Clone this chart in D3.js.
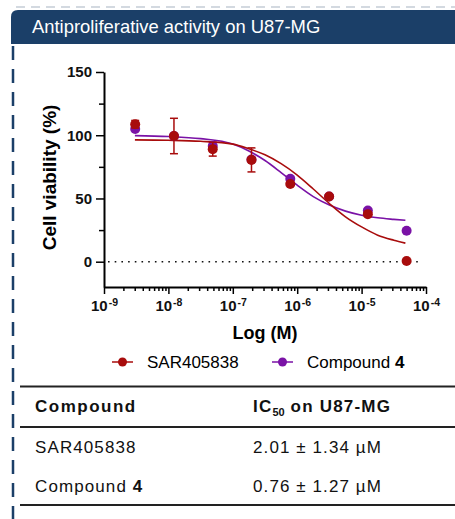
<!DOCTYPE html>
<html>
<head>
<meta charset="utf-8">
<script src="https://cdn.jsdelivr.net/npm/d3@7"></script>
<style>
  html, body { margin: 0; padding: 0; background: #fff; }
  svg { display: block; }
</style>
</head>
<body>
<svg id="chart" width="455" height="519"></svg>
<script>
// concentrations (M), 4-fold dilution series
const conc = [3.05e-9, 1.22e-8, 4.88e-8, 1.95e-7, 7.81e-7, 3.13e-6, 1.25e-5, 5.0e-5]
// SAR405838 mean viability and SD
const sarMean = [108.7, 99.4, 89, 80.5, 61.5, 51.6, 37.6, 0.5]
const sarErr = [3, 14, 5.5, 9.5, 0, 0, 0, 0]
// Compound 4 mean viability
const cpdMean = [105, 99.4, 91.5, 80.8, 65.5, 51.5, 40.5, 24.5]
// fitted curves: [log10 M, viability]
const sarFit = [[-8.52, 96.3], [-8, 96], [-7.5, 95.2], [-7, 93], [-6.75, 89.3], [-6.5, 84.5], [-6.25, 77.5],
  [-6, 68.5], [-5.75, 57.5], [-5.5, 46], [-5.25, 35.5], [-5, 27.5], [-4.75, 21], [-4.5, 17], [-4.32, 14.7]]
const cpdFit = [[-8.52, 99.7], [-8, 99], [-7.5, 97.3], [-7, 93], [-6.75, 87.5], [-6.5, 80], [-6.25, 70.5],
  [-6, 60.5], [-5.75, 51.5], [-5.5, 44.8], [-5.25, 40], [-5, 36.8], [-4.75, 34.7], [-4.5, 33.5], [-4.32, 32.8]]
const yTicks = [0, 50, 100, 150]
const yMinor = [25, 75, 125]
const xDecades = [-9, -8, -7, -6, -5, -4]
const tableHead = ['Compound', 'IC50 on U87-MG']
const tableRows = [['SAR405838', '2.01 ± 1.34 µM'], ['Compound 4', '0.76 ± 1.27 µM']]

const red = '#a80c0c', purple = '#7a12a6', navy = '#1b3f68'
const svg = d3.select('#chart')
const chartFont = '"Liberation Sans", Arial, sans-serif'

// frame: top dashes, title bar, left dashed border
svg.append('line').attr('x1', 16).attr('x2', 455).attr('y1', 7).attr('y2', 7)
  .attr('stroke', '#d3d9e0').attr('stroke-width', 2).attr('stroke-dasharray', '9,6')
svg.append('path')
  .attr('d', 'M11,44 L11,17 Q11,10 18,10 L455,10 L455,44 Z')
  .attr('fill', navy)
svg.append('text').attr('x', 32).attr('y', 33).attr('fill', '#fff')
  .style('font-family', chartFont).style('font-size', '18.4px')
  .text('Antiproliferative activity on U87-MG')
svg.append('line').attr('x1', 13).attr('x2', 13).attr('y1', 46).attr('y2', 519)
  .attr('stroke', navy).attr('stroke-width', 2.5).attr('stroke-dasharray', '14,9')

const x = d3.scaleLog().domain([1e-9, 1e-4]).range([104, 426])
const y = d3.scaleLinear().domain([-20, 150]).range([287, 72])

const g = svg.append('g').style('font-family', chartFont)

// y axis
const yAxis = g.append('g').attr('transform', `translate(${x.range()[0]},0)`)
  .call(d3.axisLeft(y).tickValues(yTicks).tickSize(8).tickSizeOuter(0).tickPadding(4))
yAxis.selectAll('text').style('font-size', '15px').style('font-weight', 'bold').attr('fill', '#111')
yAxis.select('.domain').attr('stroke-width', 2)
yAxis.selectAll('.tick line').attr('stroke-width', 1.5)
g.append('g').attr('transform', `translate(${x.range()[0]},0)`)
  .call(d3.axisLeft(y).tickValues(yMinor).tickSize(5).tickFormat(''))
  .call(a => a.select('.domain').remove())
  .selectAll('.tick line').attr('stroke-width', 1.5)

// x axis
const majors = xDecades.map(e => Math.pow(10, e))
const minors = []
xDecades.slice(0, -1).forEach(e => { for (let k = 2; k <= 9; k++) minors.push(k * Math.pow(10, e)) })
const xAxis = g.append('g').attr('transform', `translate(0,${y.range()[0]})`)
  .call(d3.axisBottom(x).tickValues(majors).tickSize(7).tickSizeOuter(0).tickPadding(6).tickFormat(''))
xAxis.select('.domain').attr('stroke-width', 2)
xAxis.selectAll('.tick line').attr('stroke-width', 1.5)
xAxis.selectAll('.tick text').each(function (d) {
  const t = d3.select(this).style('font-size', '15px').style('font-weight', 'bold').attr('fill', '#111')
  t.append('tspan').text('10')
  t.append('tspan').attr('dx', 1).attr('dy', '-0.45em').style('font-size', '10.5px').text(Math.round(Math.log10(d)))
})
g.append('g').attr('transform', `translate(0,${y.range()[0]})`)
  .call(d3.axisBottom(x).tickValues(minors).tickSize(4).tickFormat(''))
  .call(a => a.select('.domain').remove())
  .selectAll('.tick line').attr('stroke-width', 1.5)

// axis titles
g.append('text').attr('x', 265).attr('y', 339).attr('text-anchor', 'middle')
  .style('font-size', '18px').style('font-weight', 'bold').text('Log (M)')
g.append('text').attr('transform', `translate(56,${(y(-20) + y(150)) / 2 - 2}) rotate(-90)`)
  .attr('text-anchor', 'middle').style('font-size', '19px').style('font-weight', 'bold')
  .text('Cell viability (%)')

// zero line
g.append('line').attr('x1', x(1e-9) + 4).attr('x2', x(1e-4) - 4).attr('y1', y(0)).attr('y2', y(0))
  .attr('stroke', '#111').attr('stroke-width', 1.6).attr('stroke-dasharray', '1.6,5.1')

// fitted curves
const line = d3.line().x(d => x(Math.pow(10, d[0]))).y(d => y(d[1])).curve(d3.curveMonotoneX)
g.append('path').datum(cpdFit).attr('d', line).attr('fill', 'none').attr('stroke', purple).attr('stroke-width', 1.6)
g.append('path').datum(sarFit).attr('d', line).attr('fill', 'none').attr('stroke', red).attr('stroke-width', 1.6)

// compound 4 points
g.selectAll('circle.cpd').data(cpdMean).join('circle').attr('class', 'cpd')
  .attr('cx', (d, i) => x(conc[i])).attr('cy', d => y(d)).attr('r', 5).attr('fill', purple)

// SAR error bars and points
const errData = sarMean.map((m, i) => ({ c: conc[i], m, e: sarErr[i] })).filter(d => d.e > 0)
const bars = g.selectAll('g.err').data(errData).join('g').attr('class', 'err')
bars.append('line').attr('x1', d => x(d.c)).attr('x2', d => x(d.c))
  .attr('y1', d => y(d.m + d.e)).attr('y2', d => y(d.m - d.e))
  .attr('stroke', red).attr('stroke-width', 1.5)
;[1, -1].forEach(s => {
  bars.append('line').attr('x1', d => x(d.c) - 4).attr('x2', d => x(d.c) + 4)
    .attr('y1', d => y(d.m + s * d.e)).attr('y2', d => y(d.m + s * d.e))
    .attr('stroke', red).attr('stroke-width', 1.5)
})
g.selectAll('circle.sar').data(sarMean).join('circle').attr('class', 'sar')
  .attr('cx', (d, i) => x(conc[i])).attr('cy', d => y(d)).attr('r', 5).attr('fill', red)

// legend
const legend = [{ name: 'SAR405838', color: red, x: 112 }, { name: 'Compound ', bold: '4', color: purple, x: 272 }]
const lg = g.selectAll('g.leg').data(legend).join('g').attr('class', 'leg')
  .attr('transform', d => `translate(${d.x},362)`)
lg.append('line').attr('x1', 0).attr('x2', 21).attr('stroke', d => d.color).attr('stroke-width', 1.5)
lg.append('circle').attr('cx', 10.5).attr('r', 4.5).attr('fill', d => d.color)
const lt = lg.append('text').attr('x', 35).attr('y', 6).style('font-size', '17px')
lt.append('tspan').text(d => d.name)
lt.filter(d => d.bold).append('tspan').style('font-weight', 'bold').text(d => d.bold)

// table
const tg = svg.append('g').style('font-family', chartFont).attr('fill', '#111')
  .style('font-size', '17px').style('letter-spacing', '1.1px')
;[386.5, 427, 505].forEach(yy => {
  tg.append('line').attr('x1', 20).attr('x2', 455).attr('y1', yy).attr('y2', yy)
    .attr('stroke', '#222').attr('stroke-width', 2)
})
const colX = [35, 253]
tg.append('text').attr('x', colX[0]).attr('y', 412).style('font-weight', 'bold')
  .style('letter-spacing', '1.5px').text(tableHead[0])
const h2 = tg.append('text').attr('x', colX[1]).attr('y', 412).style('font-weight', 'bold')
  .style('letter-spacing', '1.2px')
h2.append('tspan').text(tableHead[1].slice(0, 2))
h2.append('tspan').attr('dy', 4).style('font-size', '11px').style('letter-spacing', '0px').text(tableHead[1].slice(2, 4))
h2.append('tspan').attr('dy', -4).text(tableHead[1].slice(4))
const rowY = [453.3, 491.7]
tableRows.forEach((r, i) => {
  const t0 = tg.append('text').attr('x', colX[0]).attr('y', rowY[i])
  const m = r[0].match(/^(Compound )(\d+)$/)
  if (m) {
    t0.append('tspan').text(m[1])
    t0.append('tspan').style('font-weight', 'bold').text(m[2])
  } else t0.text(r[0])
  tg.append('text').attr('x', colX[1]).attr('y', rowY[i]).text(r[1])
})
</script>
</body>
</html>
